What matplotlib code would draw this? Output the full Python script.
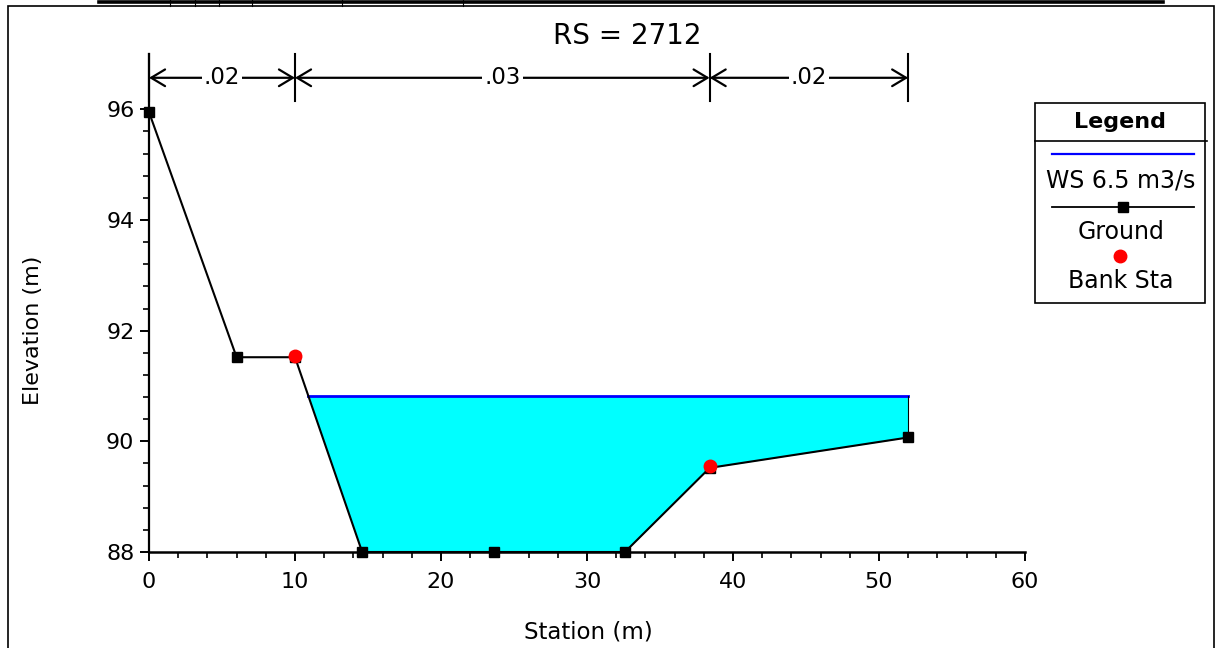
import matplotlib
matplotlib.use("Agg")
import matplotlib.pyplot as plt
from matplotlib.patches import Rectangle, FancyArrowPatch
from matplotlib.lines import Line2D
from matplotlib.ticker import MultipleLocator, FixedLocator
import numpy as np

# ---------------- data ----------------
station = [0.0, 6.0, 10.0, 14.6, 23.6, 32.6, 38.4, 52.0]
ground = [95.95, 91.52, 91.52, 88.0, 88.0, 88.0, 89.52, 90.07]
bank_sta = [10.0, 38.4]
bank_elev = [91.55, 89.55]
ws_elev = 90.82
n_bounds = [0.0, 10.0, 38.4, 52.0]
n_values = [".02", ".03", ".02"]
x_ticks = [0, 10, 20, 30, 40, 50, 60]
y_ticks = [88, 90, 92, 94, 96]
title = "RS = 2712"
legend_labels = ["WS 6.5 m3/s", "Ground", "Bank Sta"]

W, H = 1218, 648
plt.rcParams['font.family'] = ['DejaVu Sans']
fig = plt.figure(figsize=(W / 100, H / 100), dpi=100)

def fx(px):
    return px / W

def fy(py):
    return 1 - py / H

ax = fig.add_axes([fx(149), fy(552), fx(1025) - fx(149), fy(54) - fy(552)])
ax.set_xlim(0, 60)
ax.set_ylim(88, 97.0)

# water fill
st = np.array(station)
gr = np.array(ground)
ax.fill_between(st, gr, ws_elev, where=gr <= ws_elev, interpolate=True,
                color='#00FFFF', linewidth=0, zorder=1)
# water surface line
i = 2
x_left = st[i] + (gr[i] - ws_elev) / (gr[i] - gr[i + 1]) * (st[i + 1] - st[i])
ax.plot([x_left, st[-1]], [ws_elev, ws_elev], color='#0000FF', lw=2.0, zorder=3)
ax.plot([st[-1], st[-1]], [gr[-1], ws_elev], color='black', lw=0.8, zorder=3)

# ground
ax.plot(station, ground, color='black', lw=1.5, marker='s', markersize=7,
        markerfacecolor='black', markeredgecolor='black', zorder=4, clip_on=False)
# bank stations
ax.plot(bank_sta, bank_elev, linestyle='none', marker='o', markersize=9,
        markerfacecolor='#FF0000', markeredgecolor='#FF0000', zorder=5, clip_on=False)

# n-value markers
y_arrow = 96.57
for b in n_bounds:
    ax.plot([b, b], [96.15, 97.0], color='black', lw=1.5, zorder=3, clip_on=False)
for k, lab in enumerate(n_values):
    a, b = n_bounds[k], n_bounds[k + 1]
    arr = FancyArrowPatch((a, y_arrow), (b, y_arrow),
                          arrowstyle='<->,head_length=0.5,head_width=0.3',
                          mutation_scale=20, lw=1.6, color='black',
                          shrinkA=0, shrinkB=0, zorder=3, clip_on=False)
    ax.add_patch(arr)
    ax.text((a + b) / 2, y_arrow, lab, ha='center', va='center', fontsize=16.5,
            bbox=dict(facecolor='white', edgecolor='none', pad=1.5), zorder=4)

# axes style
for s in ['top', 'right']:
    ax.spines[s].set_visible(False)
ax.spines['left'].set_linewidth(1.6)
ax.spines['bottom'].set_linewidth(1.8)
ax.xaxis.set_major_locator(FixedLocator(x_ticks))
ax.xaxis.set_minor_locator(MultipleLocator(2))
ax.yaxis.set_major_locator(FixedLocator(y_ticks))
ax.yaxis.set_minor_locator(FixedLocator(list(np.arange(88, 96.01, 0.4))))
ax.tick_params(axis='both', which='major', direction='out', length=6.5, width=1.4,
               labelsize=16)
ax.tick_params(axis='both', which='minor', direction='out', length=4.3, width=1.2)
ax.tick_params(axis='x', which='major', pad=8)
ax.tick_params(axis='y', which='major', pad=4)

fig.text(fx(588), fy(632), "Station (m)", ha='center', va='center', fontsize=16.5)
fig.text(fx(33), fy(330), "Elevation (m)", ha='center', va='center', fontsize=16,
         rotation=90)
fig.text(fx(627), fy(36), title, ha='center', va='center', fontsize=20)

# frame and top strip
fig.add_artist(Rectangle((fx(8), fy(700)), fx(1214) - fx(8), (700 - 6) / H,
                         transform=fig.transFigure, fill=False, edgecolor='black',
                         lw=1.2))
fig.add_artist(Line2D([fx(99), fx(1163)], [fy(2.3), fy(2.3)],
                      transform=fig.transFigure, color='black', lw=2.6))
for tx in [170, 195, 219, 252, 342, 463]:
    fig.add_artist(Line2D([fx(tx), fx(tx)], [fy(0), fy(6)],
                          transform=fig.transFigure, color='black', lw=0.8))

# legend box
fig.add_artist(Rectangle((fx(1035), fy(303)), fx(1205) - fx(1035), (303 - 103) / H,
                         transform=fig.transFigure, fill=False, edgecolor='black',
                         lw=1.2, facecolor='white'))
fig.add_artist(Line2D([fx(1035), fx(1207)], [fy(141), fy(141)],
                      transform=fig.transFigure, color='black', lw=1.2))
fig.text(fx(1120), fy(122), "Legend", ha='center', va='center', fontsize=16,
         fontweight='bold')
fig.add_artist(Line2D([fx(1052), fx(1194)], [fy(154), fy(154)],
                      transform=fig.transFigure, color='#0000FF', lw=1.6))
fig.text(fx(1121), fy(181), legend_labels[0], ha='center', va='center', fontsize=17)
fig.add_artist(Line2D([fx(1052), fx(1194)], [fy(207), fy(207)],
                      transform=fig.transFigure, color='black', lw=1.3))
fig.add_artist(Line2D([fx(1123)], [fy(207)], transform=fig.transFigure,
                      linestyle='none', marker='s', markersize=7, color='black'))
fig.text(fx(1121), fy(232), legend_labels[1], ha='center', va='center', fontsize=17)
fig.add_artist(Line2D([fx(1120)], [fy(256)], transform=fig.transFigure,
                      linestyle='none', marker='o', markersize=9, color='#FF0000'))
fig.text(fx(1121), fy(281), legend_labels[2], ha='center', va='center', fontsize=17)

fig.savefig("out.png", dpi=100)
